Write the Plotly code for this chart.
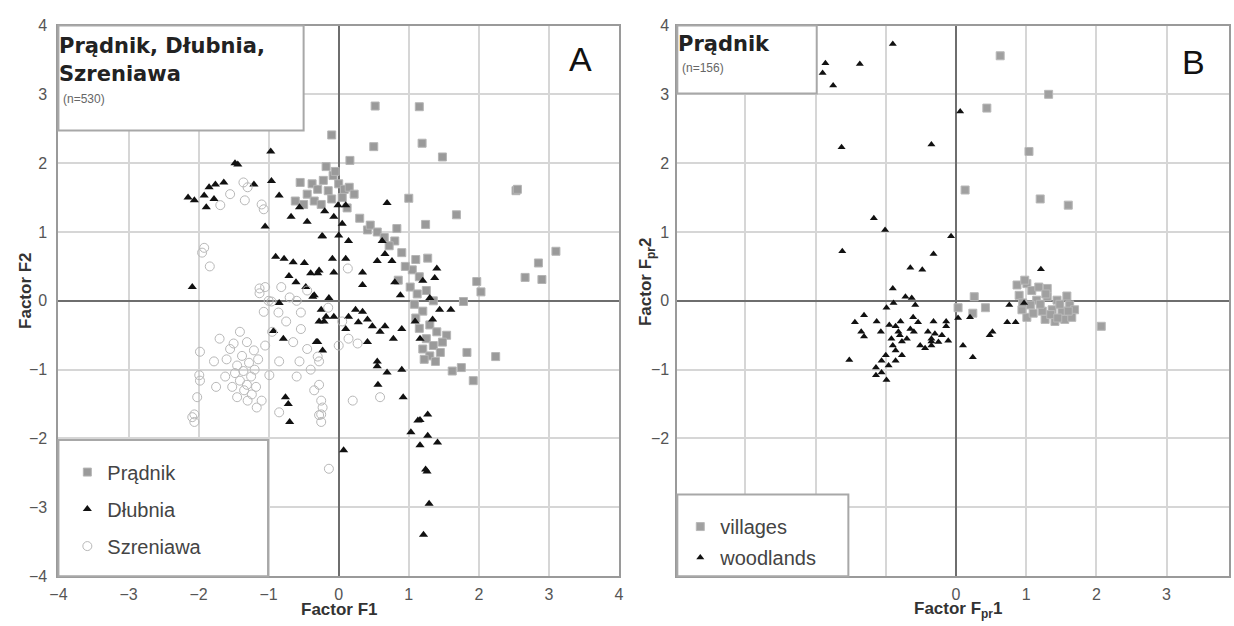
import plotly.graph_objects as go

W, H = 1234, 626

# ---------------- Panel A data ----------------
pradnik_x = [0.52, 1.15, -0.10, 0.50, 1.19, 1.48, 0.16, 2.53, 2.55, 1.00, 1.68, 1.24, 3.10, 2.85, 2.66, 2.90,
             1.97, 2.03, 1.78, 1.54, 1.83, 2.24, 1.62, 1.75, 1.92, 0.83, 0.41, 0.80, 1.10, 1.27,
             1.05, 1.15, 1.02, 1.12, 1.25, 1.35, 1.08, 1.20, 1.30, 1.15, 1.40, 1.25, 1.35, 1.20, 1.30, 1.45,
             1.38, 1.22, 1.48, 1.10,
             -0.45, -0.38, -0.30, -0.22, -0.15, -0.08, 0.00, 0.08, -0.35, -0.25, -0.10, 0.05, 0.15, -0.18,
             -0.05, 0.22, -0.50, 0.12, 0.30, 0.45, 0.55, 0.65, 0.72, 0.90, 0.95, 0.85, -0.55, -0.62]
pradnik_y = [2.83, 2.82, 2.41, 2.24, 2.29, 2.09, 2.04, 1.60, 1.62, 1.49, 1.25, 1.11, 0.72, 0.55, 0.34, 0.31,
             0.28, 0.13, -0.01, -0.50, -0.75, -0.81, -1.02, -0.97, -1.16, 1.05, 1.03, 0.87, 0.60, 0.62,
             0.45, 0.35, 0.20, 0.10, 0.15, 0.00, -0.05, -0.15, -0.35, -0.40, -0.45, -0.55, -0.65, -0.70, -0.80, -0.75,
             -0.88, -0.85, -0.60, -0.25,
             1.55, 1.70, 1.62, 1.75, 1.60, 1.82, 1.70, 1.62, 1.45, 1.40, 1.48, 1.50, 1.65, 1.95,
             1.88, 1.55, 1.40, 1.35, 1.20, 1.10, 1.00, 0.92, 0.80, 0.70, 0.50, 0.30, 1.72, 1.45]

dlubnia_x = [-2.15, -2.06, -1.89, -1.92, -1.85, -1.76, -1.64, -1.78, -1.48, -1.44, -1.21, -0.96, -0.97, -0.85,
             -0.68, -1.05, -0.56, -0.24, -2.09, -0.85, -0.93, -0.79, -0.76, -0.72, -0.70,
             -0.90, -0.78, -0.65, -0.49, -0.71, -0.61, -0.47, -0.37, -0.30, -0.25, -0.28, -0.30, -0.40, -0.28,
             -0.07, -0.35, -0.14, -0.18, -0.07, 0.24, 0.34, 0.41, 0.28, 0.48, 0.14, 0.10, -0.32, -0.23, -0.21,
             0.69, -0.01, 0.10, -0.23, -0.07, 0.05, 0.14, 0.62, 0.66, 0.76, 0.55, 0.34, 0.34, 0.10, -0.09,
             0.80, 0.88, 1.20, 1.40, 1.37, 1.30, 1.44, 1.60, 1.09, 1.34, 1.16, 0.90, 0.78, 0.66, 0.59, 0.41,
             0.55, 0.55, 0.69, 0.90, 0.56, 0.92, 1.16, 1.27,
             0.07, 1.03, 1.13, 1.27, 1.41, 1.16, 1.26, 1.29, 1.21, 1.24, -0.45, -0.20, 0.00]
dlubnia_y = [1.50, 1.46, 1.36, 1.53, 1.65, 1.69, 1.72, 1.48, 2.00, 1.98, 1.69, 1.74, 2.17, 1.53,
             1.22, 1.08, 1.36, 0.94, 0.20, -0.03, -0.44, -0.55, -1.40, -1.50, -1.76,
             0.64, 0.61, 0.56, 0.55, 0.36, 0.27, 0.20, 0.06, 0.40, -0.13, -0.30, -0.60, 0.40, 0.44,
             0.41, 0.08, 0.04, -0.23, -0.23, -0.13, -0.16, -0.27, -0.31, -0.37, -0.23, -0.41, -0.60, -0.72, -0.30,
             1.42, 1.39, 1.39, 0.94, 1.22, 1.12, 0.87, 0.87, 0.68, 0.58, 0.58, 0.41, 0.23, 0.61, 0.61,
             0.27, 0.08, 0.29, 0.47, 0.33, 0.04, -0.13, -0.13, -0.30, -0.27, -0.55, -0.41, -0.55, -0.37, -0.45, -0.60,
             -0.88, -0.95, -1.04, -1.00, -1.22, -1.40, -1.73, -1.65,
             -2.17, -1.91, -1.74, -1.96, -2.06, -2.10, -2.48, -2.95, -3.40, -2.45, 1.15, 1.30, 0.95]

szreniawa_x = [-1.92, -1.95, -1.84, -1.69, -1.34, -1.36, -1.07, -1.10, -1.13, -1.13, -0.82, -0.96, -1.07, -0.86,
               -0.54, -0.54, -1.41, -1.50, -1.31, -1.21, -1.98, -1.78, -1.99, -1.98, -2.02, -2.06, -1.45, -1.36,
               -1.31, -1.41, -1.24, -1.17, -0.99, -0.85, -0.85, -0.56, -0.28, -0.28, -0.25, -0.25, -0.23, -0.28,
               0.59, 0.13, -0.30, 0.00, 0.14, 0.27, -0.14, -0.25, -2.06, -2.09,
               -1.55, -1.60, -1.48, -1.38, -1.28, -1.20, -1.15, -1.25, -1.35, -1.18, -1.10, -1.30, -1.05, -1.62,
               -1.52, -1.45, -0.95, -0.75, -0.65, -0.45, -0.40, -0.35, -0.60, -1.70, -1.75, -0.70, -0.60, -0.45,
               -0.15, 0.05, -1.00, -1.05, -1.55, -1.30, 0.20]
szreniawa_y = [0.77, 0.70, 0.50, 1.39, 1.46, 1.72, 1.33, 1.40, 0.18, 0.11, 0.20, -0.01, -0.16, -0.17,
               -0.17, -0.41, -0.45, -0.62, -0.60, -0.72, -0.74, -0.88, -1.08, -1.16, -1.40, -1.65, -0.94, -1.02,
               -1.22, -1.16, -1.36, -1.55, -1.08, -0.88, -1.62, -0.88, -0.88, -1.22, -1.45, -1.65, -1.55, -1.66,
               -1.40, 0.47, -0.81, -0.65, -0.55, -0.62, -2.44, -1.76, -1.76, -1.69,
               -0.70, -0.85, -1.05, -0.80, -0.90, -1.00, -0.85, -1.10, -1.30, -1.25, -1.45, -1.45, -0.65, -1.10,
               -1.25, -1.40, -0.45, -0.30, -0.60, -0.70, -1.00, -1.30, -1.10, -0.55, -1.25, 0.05, 0.00, 0.15,
               -0.10, -0.30, 0.00, 0.20, 1.55, 1.65, -1.45]

# ---------------- Panel B data ----------------
woodlands_x = [-1.86, -1.90, -1.75, -1.37, -0.90, -1.63, -0.35, 0.06, -1.17, -1.01, -1.62, -0.32, -0.65, -0.48,
               -0.90, -1.52, -1.31, -1.44, -1.35, -1.31, -1.13, -1.07, -0.99, -0.89, -0.72, -0.63, -0.58, -0.61,
               -0.54, -0.65, -0.32, -0.86, -0.79, -0.82, -0.92, -0.77, -0.86, -0.77, -1.00, -1.06, -0.86, -1.14,
               -1.14, -1.06, -0.99, -0.96, -0.51, -0.44, -0.35, -0.30, -0.07, 1.21, 0.76, 0.97, 0.73, 0.85,
               0.20, 0.03, -0.14, -0.14, 0.52, 0.48, -0.11, 0.10, 0.24, -0.35, -0.35, -0.90, -0.80, -0.70,
               -0.95, -0.60, -0.40, -0.25, -0.20]
woodlands_y = [3.45, 3.31, 3.13, 3.44, 3.73, 2.23, 2.27, 2.75, 1.20, 1.03, 0.72, 0.68, 0.48, 0.45,
               0.18, -0.86, -0.21, -0.31, -0.45, -0.52, -0.30, -0.45, -0.10, -0.03, 0.06, 0.04, -0.06, -0.24,
               -0.31, -0.41, -0.30, -0.37, -0.30, -0.45, -0.55, -0.59, -0.72, -0.79, -0.79, -0.87, -0.87, -0.97,
               -1.08, -1.04, -1.15, -0.94, -0.65, -0.69, -0.59, -0.48, 0.94, 0.46, -0.06, -0.03, -0.31, -0.31,
               -0.24, -0.25, -0.30, -0.37, -0.45, -0.50, -0.58, -0.65, -0.82, -0.55, -0.65, -0.65, -0.50, -0.55,
               -0.35, -0.45, -0.45, -0.60, -0.50]

villages_x = [0.63, 1.32, 0.44, 1.04, 0.13, 1.20, 1.60, 2.07, 1.30, 0.26, 0.03, 0.42, 0.24, 0.87, 1.01,
              1.08, 0.90, 1.15, 1.30, 1.44, 1.58, 1.62, 1.69, 1.51, 1.37, 1.23, 1.27, 1.41, 1.55, 1.65,
              1.01, 0.94, 1.06, 1.18, 0.98, 1.10, 1.35, 1.48, 1.20, 0.95, 1.60, 1.45, 1.28]
villages_y = [3.56, 3.00, 2.80, 2.17, 1.61, 1.48, 1.39, -0.37, 0.18, 0.06, -0.10, -0.10, -0.18, 0.23, 0.25,
              0.15, 0.08, 0.01, 0.06, 0.01, 0.07, -0.06, -0.13, -0.15, -0.13, -0.15, -0.27, -0.30, -0.27, -0.24,
              -0.24, -0.13, -0.06, 0.20, 0.30, -0.18, -0.20, -0.05, -0.05, -0.03, -0.15, -0.25, 0.10]

ticks_all = [-4, -3, -2, -1, 0, 1, 2, 3, 4]
ticks_bx_labelled = [0, 1, 2, 3, 4]
ticks_bx_grid_only = [-3, -2, -1]
ticks_by_labelled = [-2, -1, 0, 1, 2, 3, 4]
ticks_by_grid_only = [-3]

FONT = "Liberation Sans, Arial, sans-serif"
BOLDFONT = "DejaVu Sans, Verdana, sans-serif"

def px(x):
    return x / W

def py(y):
    return 1 - y / H

fig = go.Figure()

fig.add_trace(go.Scatter(x=pradnik_x, y=pradnik_y, mode="markers", name="Prądnik",
                         marker=dict(symbol="square", size=8, color="#9a9a9a", line=dict(color="#b5b5b5", width=1)),
                         xaxis="x", yaxis="y", legend="legend", legendgroup="a1"))
fig.add_trace(go.Scatter(x=dlubnia_x, y=dlubnia_y, mode="markers", name="Dłubnia",
                         marker=dict(symbol="triangle-up", size=8, color="#111111"),
                         xaxis="x", yaxis="y", legend="legend", legendgroup="a2"))
fig.add_trace(go.Scatter(x=szreniawa_x, y=szreniawa_y, mode="markers", name="Szreniawa",
                         marker=dict(symbol="circle-open", size=9, color="#b8b8b8", line=dict(width=1)),
                         xaxis="x", yaxis="y", legend="legend", legendgroup="a3"))
fig.add_trace(go.Scatter(x=villages_x, y=villages_y, mode="markers", name="villages",
                         marker=dict(symbol="square", size=8, color="#a0a0a0", line=dict(color="#b8b8b8", width=1)),
                         xaxis="x2", yaxis="y2", legend="legend2", legendgroup="b1"))
fig.add_trace(go.Scatter(x=woodlands_x, y=woodlands_y, mode="markers", name="woodlands",
                         marker=dict(symbol="triangle-up", size=7, color="#111111"),
                         xaxis="x2", yaxis="y2", legend="legend2", legendgroup="b2"))

axis_common = dict(showgrid=True, gridcolor="#d6d6d6", gridwidth=1.5,
                   zeroline=True, zerolinecolor="#6e6e6e", zerolinewidth=2,
                   showline=True, linecolor="#9a9a9a", linewidth=2, mirror=True,
                   ticks="", tickfont=dict(family=FONT, size=16, color="#555555"),
                   tickmode="array", fixedrange=True)
minor_grid = dict(showgrid=True, gridcolor="#d6d6d6", gridwidth=1.5, ticks="")

shapes = []
def box(x0, y0, x1, y1):
    shapes.append(dict(type="rect", xref="paper", yref="paper", x0=px(x0), x1=px(x1), y0=py(y1), y1=py(y0),
                       fillcolor="white", line=dict(color="#a8a8a8", width=2), layer="above"))

box(50, 18, 298, 126)
box(676, 18, 817, 88)
box(50, 444, 262, 584)
box(676, 500, 849, 584)

ann = []
def text(x, y, t, size, bold=False, color="#222222", xanchor="left", yanchor="middle", angle=0,
         family=FONT, yshift=0):
    ann.append(dict(x=px(x), y=py(y), xref="paper", yref="paper", text=t, showarrow=False,
                    xanchor=xanchor, yanchor=yanchor, textangle=angle, align="left", yshift=yshift,
                    font=dict(family=family, size=size, color=color, weight="bold" if bold else "normal")))

text(49, 39, "Prądnik, Dłubnia,", 21, bold=True, color="#222222", family=BOLDFONT)
text(49, 68, "Szreniawa", 21, bold=True, color="#222222", family=BOLDFONT)
text(53, 94, "(n=530)", 12, color="#666666")
text(578, 52, "A", 34, color="#111111", xanchor="center")
text(675, 37, "Prądnik", 21, bold=True, color="#222222", family=BOLDFONT)
text(679, 62, "(n=156)", 12, color="#666666")
text(1198, 55, "B", 34, color="#111111", xanchor="center")
text(334, 626, "Factor F1", 17, bold=True, color="#333333", xanchor="center", yanchor="bottom", yshift=-4)
text(16, 290, "Factor F2", 17, bold=True, color="#333333", xanchor="center", angle=-90)
text(960, 626, "Factor F<sub>pr</sub>1", 17, bold=True, color="#333333", xanchor="center", yanchor="bottom", yshift=-6)
text(646, 282, "Factor F<sub>pr</sub>2", 17, bold=True, color="#333333", xanchor="center", angle=-90)

legend_common = dict(bgcolor="rgba(0,0,0,0)", borderwidth=0, font=dict(family=FONT, size=20, color="#444444"),
                     xanchor="left", yanchor="top", itemsizing="trace")

fig.update_layout(
    width=W, height=H, margin=dict(l=0, r=0, t=0, b=0),
    paper_bgcolor="white", plot_bgcolor="white",
    xaxis=dict(domain=[px(50), px(617)], range=[-4, 4], tickvals=ticks_all, anchor="y",
               ticklabelstandoff=3, **axis_common),
    yaxis=dict(domain=[py(584), py(18)], range=[-4, 4], tickvals=ticks_all, anchor="x",
               ticklabelstandoff=6, **axis_common),
    xaxis2=dict(domain=[px(676), 1.0], range=[-3.97, 3.89], tickvals=ticks_bx_labelled, anchor="y2",
                ticklabelstandoff=3, minor=dict(tickvals=ticks_bx_grid_only, **minor_grid), **axis_common),
    yaxis2=dict(domain=[py(584), py(18)], range=[-4, 4], tickvals=ticks_by_labelled, anchor="x2",
                ticklabelstandoff=3, minor=dict(tickvals=ticks_by_grid_only, **minor_grid), **axis_common),
    legend=dict(x=px(59), y=py(457), tracegroupgap=8, **legend_common),
    legend2=dict(x=px(679), y=py(513), tracegroupgap=2, **legend_common),
    shapes=shapes, annotations=ann, showlegend=True,
)

fig.write_html("out.html")
